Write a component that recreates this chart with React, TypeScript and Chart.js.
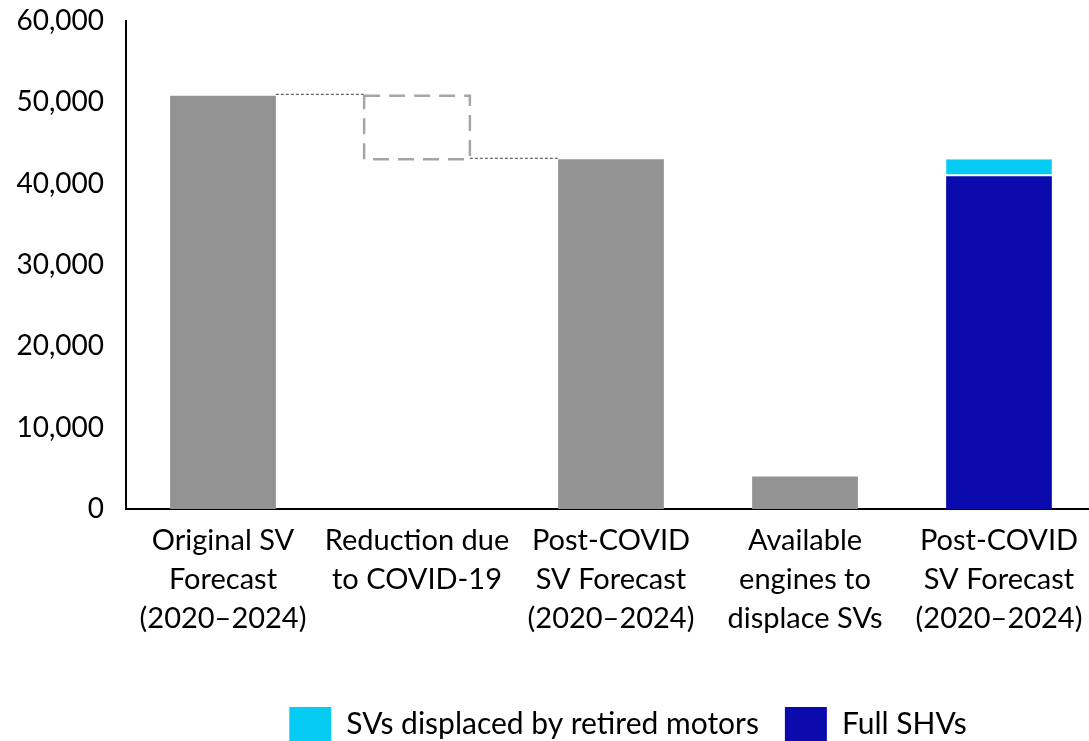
import React, { useEffect, useRef } from "react";
import { Chart, registerables } from "chart.js";

Chart.register(...registerables);

const categories: string[][] = [
  ["Original SV", "Forecast", "(2020–2024)"],
  ["Reduction due", "to COVID-19"],
  ["Post-COVID", "SV Forecast", "(2020–2024)"],
  ["Available", "engines to", "displace SVs"],
  ["Post-COVID", "SV Forecast", "(2020–2024)"],
];
const forecastValues = [50800, null, 43000, 4000, null];
const covidReduction = [null, [43000, 50800], null, null, null];
const fullSHVs = [null, null, null, null, 40900];
const displacedByRetired = [null, null, null, null, 2100];
const yMin = 0;
const yMax = 60000;
const yStep = 10000;

const GRAY = "#939393";
const CYAN = "#05CBF5";
const NAVY = "#0A0AAD";
const FONT = "Lato, 'Open Sans', sans-serif";
const LEGEND_SHIFT = 80;

const waterfallPlugin = {
  id: "waterfallDecor",
  afterLayout(chart: any) {
    if (chart.legend) {
      chart.legend.left += LEGEND_SHIFT;
      chart.legend.right += LEGEND_SHIFT;
    }
  },
  afterDatasetsDraw(chart: any) {
    const ctx = chart.ctx;
    const barMeta = chart.getDatasetMeta(0);
    const redMeta = chart.getDatasetMeta(1);
    const b0 = barMeta.data[0] as any;
    const b2 = barMeta.data[2] as any;
    const r = redMeta.data[1] as any;
    if (!b0 || !b2 || !r) return;
    const left = r.x - r.width / 2;
    const right = r.x + r.width / 2;
    const top = Math.min(r.y, r.base);
    const bottom = Math.max(r.y, r.base);
    ctx.save();
    ctx.strokeStyle = "#444";
    ctx.lineWidth = 1;
    ctx.setLineDash([3, 2]);
    ctx.beginPath();
    ctx.moveTo(b0.x + b0.width / 2, b0.y - 1.5);
    ctx.lineTo(left, b0.y - 1.5);
    ctx.moveTo(right, b2.y - 1);
    ctx.lineTo(b2.x - b2.width / 2, b2.y - 1);
    ctx.stroke();
    ctx.strokeStyle = "#A6A6A6";
    ctx.lineWidth = 2.5;
    ctx.setLineDash([16, 9]);
    ctx.strokeRect(left, top, right - left, bottom - top);
    ctx.restore();
  },
};

export default function App() {
  const ref = useRef<HTMLCanvasElement | null>(null);

  useEffect(() => {
    if (!ref.current) return;
    Chart.defaults.color = "#000";
    const chart = new Chart(ref.current, {
      type: "bar",
      data: {
        labels: categories,
        datasets: [
          {
            label: "Forecast",
            data: forecastValues as any,
            backgroundColor: GRAY,
            borderWidth: 0,
          },
          {
            label: "Reduction due to COVID-19",
            data: covidReduction as any,
            backgroundColor: "rgba(0,0,0,0)",
            borderWidth: 0,
          },
          {
            label: "Full SHVs",
            data: fullSHVs as any,
            backgroundColor: NAVY,
            borderWidth: 0,
          },
          {
            label: "SVs displaced by retired motors",
            data: displacedByRetired as any,
            backgroundColor: CYAN,
            borderColor: "#fff",
            borderWidth: { top: 0, left: 0, right: 0, bottom: 2 } as any,
            borderSkipped: false,
          },
        ],
      },
      options: {
        responsive: false,
        animation: false,
        devicePixelRatio: 1,
        datasets: { bar: { barPercentage: 0.545, categoryPercentage: 1 } },
        layout: { padding: { top: 21, left: 0, right: 0, bottom: 0 } },
        scales: {
          x: {
            stacked: true,
            grid: { display: false },
            border: { display: true, color: "#000", width: 2 },
            ticks: {
              autoSkip: false,
              maxRotation: 0,
              minRotation: 0,
              padding: 4,
              color: "#000",
              font: { family: FONT, size: 29, lineHeight: 1.345 },
            },
            afterFit(scale: any) {
              scale.height = 172;
            },
          },
          y: {
            stacked: true,
            min: yMin,
            max: yMax,
            grid: { display: false },
            border: { display: true, color: "#000", width: 2 },
            ticks: {
              stepSize: yStep,
              padding: 14,
              color: "#000",
              font: { family: FONT, size: 28 },
              callback: (v: any) => Number(v).toLocaleString("en-US"),
            },
            afterFit(scale: any) {
              scale.width = 126;
              scale.paddingTop = 0;
              scale.paddingBottom = 0;
            },
          },
        },
        plugins: {
          tooltip: { enabled: false },
          legend: {
            position: "bottom",
            labels: {
              boxWidth: 42,
              boxHeight: 34,
              padding: 26,
              color: "#000",
              font: { family: FONT, size: 30 },
              filter: (item: any) => item.datasetIndex >= 2,
              sort: (a: any, b: any) => b.datasetIndex - a.datasetIndex,
              generateLabels: (c: any) =>
                Chart.defaults.plugins.legend.labels
                  .generateLabels(c)
                  .map((l: any) => ({ ...l, lineWidth: 0, strokeStyle: "rgba(0,0,0,0)" })),
            },
          },
        },
      } as any,
      plugins: [waterfallPlugin],
    });
    return () => chart.destroy();
  }, []);

  return (
    <div
      style={{
        position: "fixed",
        left: 0,
        top: 0,
        width: 1089,
        height: 741,
        overflow: "hidden",
        background: "#fff",
      }}
    >
      <canvas
        ref={ref}
        width={1096}
        height={751}
        style={{ display: "block", width: 1096, height: 751 }}
      />
    </div>
  );
}
